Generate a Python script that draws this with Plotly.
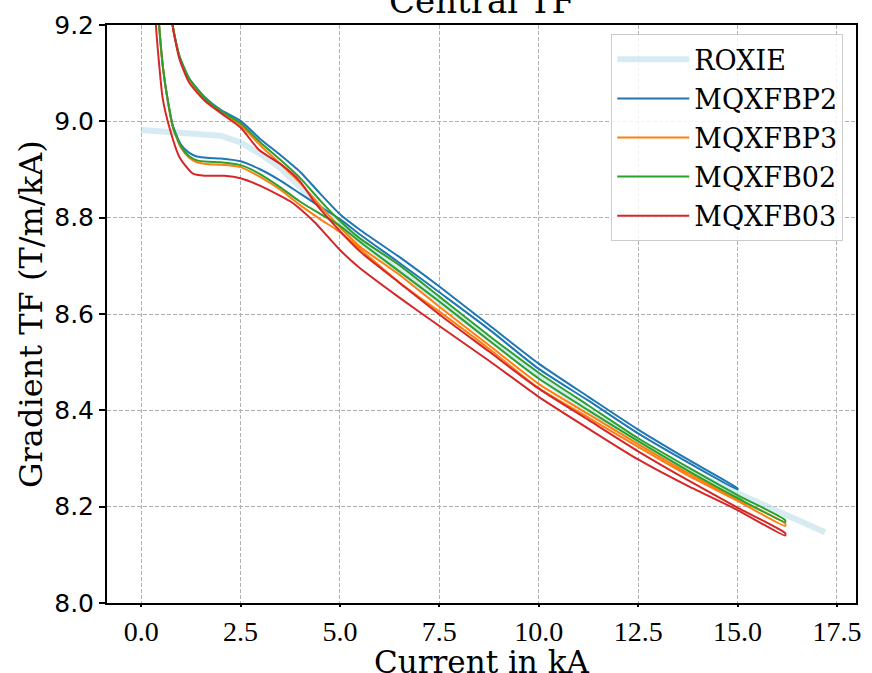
import plotly.graph_objects as go

# ---------------- data ----------------
roxie_x = [0.0, 1.0, 2.0, 2.5, 3.0, 3.5, 4.0, 4.5, 5.0, 6.0, 7.0, 8.0, 9.0, 10.0,
           11.0, 12.0, 13.0, 14.0, 15.0, 16.0, 17.2]
roxie_y = [8.982, 8.977, 8.970, 8.956, 8.932, 8.903, 8.863, 8.823, 8.785, 8.720,
           8.658, 8.596, 8.533, 8.470, 8.412, 8.358, 8.309, 8.266, 8.228, 8.190, 8.147]

# MQXFBP2 (ramp up, then ramp down)
bp2_up_x = [0.30, 0.45, 0.55, 0.66, 0.80, 1.00, 1.20, 1.40, 1.70, 2.00, 2.50, 3.00, 3.50,
            4.00, 4.50, 5.00, 5.50, 6.50, 7.50, 8.75, 10.0, 11.25, 12.5, 13.75, 15.0]
bp2_up_y = [9.40, 9.20, 9.11, 9.048, 8.990, 8.952, 8.935, 8.927, 8.924, 8.923, 8.917, 8.900,
            8.877, 8.850, 8.823, 8.797, 8.765, 8.706, 8.645, 8.568, 8.486, 8.420, 8.352,
            8.292, 8.236]
bp2_dn_x = [15.0, 13.75, 12.5, 11.25, 10.0, 8.75, 7.5, 6.5, 5.5, 5.0, 4.5, 4.0, 3.5, 3.0,
            2.5, 2.0, 1.6, 1.2, 0.96, 0.79, 0.70]
bp2_dn_y = [8.238, 8.298, 8.360, 8.428, 8.497, 8.577, 8.657, 8.718, 8.775, 8.807, 8.850,
            8.895, 8.930, 8.963, 9.001, 9.024, 9.050, 9.090, 9.136, 9.200, 9.300]

# MQXFBP3
bp3_up_x = [0.30, 0.45, 0.55, 0.66, 0.80, 1.00, 1.20, 1.40, 1.70, 2.00, 2.50, 3.00, 3.50,
            4.00, 4.50, 5.00, 5.50, 6.50, 7.50, 8.75, 10.0, 11.25, 12.5, 13.75, 15.0, 16.2]
bp3_up_y = [9.40, 9.20, 9.11, 9.046, 8.986, 8.945, 8.925, 8.915, 8.911, 8.910, 8.905, 8.884,
            8.858, 8.826, 8.797, 8.770, 8.735, 8.665, 8.605, 8.528, 8.446, 8.385, 8.324,
            8.265, 8.212, 8.160]
bp3_dn_x = [16.2, 15.0, 13.75, 12.5, 11.25, 10.0, 8.75, 7.5, 6.5, 5.5, 5.0, 4.5, 4.0, 3.5,
            3.0, 2.5, 2.0, 1.6, 1.2, 0.96, 0.79, 0.70]
bp3_dn_y = [8.165, 8.216, 8.270, 8.330, 8.392, 8.455, 8.535, 8.615, 8.681, 8.740, 8.780,
            8.825, 8.872, 8.912, 8.950, 8.992, 9.020, 9.046, 9.088, 9.134, 9.200, 9.300]

# MQXFB02
b02_up_x = [0.30, 0.45, 0.55, 0.66, 0.80, 1.00, 1.20, 1.40, 1.70, 2.00, 2.50, 3.00, 3.50,
            4.00, 4.50, 5.00, 5.50, 6.50, 7.50, 8.75, 10.0, 11.25, 12.5, 13.75, 15.0, 16.2]
b02_up_y = [9.40, 9.20, 9.11, 9.048, 8.988, 8.948, 8.928, 8.919, 8.916, 8.915, 8.909, 8.890,
            8.863, 8.833, 8.808, 8.783, 8.750, 8.688, 8.626, 8.545, 8.466, 8.400, 8.336,
            8.275, 8.218, 8.168]
b02_dn_x = [16.2, 15.0, 13.75, 12.5, 11.25, 10.0, 8.75, 7.5, 6.5, 5.5, 5.0, 4.5, 4.0, 3.5,
            3.0, 2.5, 2.0, 1.6, 1.2, 0.96, 0.79, 0.70]
b02_dn_y = [8.172, 8.224, 8.282, 8.342, 8.410, 8.478, 8.555, 8.636, 8.701, 8.757, 8.793,
            8.836, 8.882, 8.920, 8.956, 8.996, 9.022, 9.048, 9.090, 9.136, 9.200, 9.300]

# MQXFB03
b03_up_x = [0.28, 0.37, 0.45, 0.54, 0.71, 0.96, 1.29, 1.60, 2.10, 2.50, 3.00, 3.50, 3.80,
            4.00, 4.37, 4.70, 5.00, 5.46, 6.46, 7.50, 8.75, 10.0, 11.25, 12.5, 13.75, 15.0, 16.2]
b03_up_y = [9.40, 9.20, 9.12, 9.048, 8.987, 8.926, 8.892, 8.887, 8.887, 8.882, 8.866, 8.845,
            8.831, 8.818, 8.790, 8.760, 8.733, 8.698, 8.636, 8.575, 8.503, 8.428, 8.362,
            8.298, 8.243, 8.193, 8.140]
b03_dn_x = [16.2, 15.0, 13.75, 12.5, 11.25, 10.0, 8.75, 7.5, 6.46, 5.5, 5.0, 4.37, 4.0, 3.54,
            2.96, 2.5, 2.04, 1.62, 1.21, 0.96, 0.79, 0.70]
b03_dn_y = [8.145, 8.198, 8.255, 8.315, 8.380, 8.445, 8.522, 8.599, 8.667, 8.730, 8.772,
            8.831, 8.875, 8.909, 8.941, 8.987, 9.015, 9.041, 9.080, 9.130, 9.200, 9.300]

x_ticks = [0.0, 2.5, 5.0, 7.5, 10.0, 12.5, 15.0, 17.5]
y_ticks = [8.0, 8.2, 8.4, 8.6, 8.8, 9.0, 9.2]

series = [
    ("MQXFBP2", "#1f77b4", bp2_up_x, bp2_up_y, bp2_dn_x, bp2_dn_y),
    ("MQXFBP3", "#ff7f0e", bp3_up_x, bp3_up_y, bp3_dn_x, bp3_dn_y),
    ("MQXFB02", "#2ca02c", b02_up_x, b02_up_y, b02_dn_x, b02_dn_y),
    ("MQXFB03", "#d62728", b03_up_x, b03_up_y, b03_dn_x, b03_dn_y),
]

# ---------------- figure ----------------
SERIF = "DejaVu Serif"
fig = go.Figure()
fig.add_trace(go.Scatter(x=roxie_x, y=roxie_y, mode="lines", name="ROXIE",
                         legendgroup="g0",
                         line=dict(color="rgba(173,216,230,0.5)", width=6)))
for i, (name, color, ux, uy, dx, dy) in enumerate(series):
    fig.add_trace(go.Scatter(x=ux + dx, y=uy + dy, mode="lines", name=name,
                             legendgroup="g%d" % (i + 1),
                             line=dict(color=color, width=2, shape="spline",
                                       smoothing=0.6)))

axis_common = dict(showgrid=True, gridcolor="#b0b0b0", gridwidth=1, griddash="4px,2px",
                   zeroline=False, showline=True, linecolor="black", linewidth=2,
                   mirror=True, ticks="outside", tickwidth=1.5, tickcolor="black")

fig.update_layout(
    width=872, height=673,
    margin=dict(l=107, r=11, t=22, b=70),
    paper_bgcolor="white", plot_bgcolor="white",
    xaxis=dict(range=[-0.86, 17.98], tickvals=x_ticks,
               ticktext=["%.1f" % v for v in x_ticks],
               tickfont=dict(family="Liberation Serif", size=28, color="black"),
               ticklen=2,
               **axis_common),
    yaxis=dict(range=[8.0, 9.2], tickvals=y_ticks,
               ticktext=["%.1f" % v for v in y_ticks],
               tickfont=dict(family="DejaVu Sans", size=25, color="black"),
               ticklen=6,
               **axis_common),
    legend=dict(x=0.983, y=0.984, xanchor="right", yanchor="top",
                font=dict(family=SERIF, size=27, color="black"),
                bgcolor="rgba(255,255,255,0.85)", bordercolor="#cccccc",
                borderwidth=1, tracegroupgap=1, itemwidth=72),
    showlegend=True,
    annotations=[
        dict(text="Central TF", xref="paper", yref="paper", x=0.5, y=1,
             xanchor="center", yanchor="bottom", yshift=2, showarrow=False,
             font=dict(family=SERIF, size=34, color="black")),
        dict(text="Current in kA", xref="paper", yref="paper", x=0.5, y=0,
             xanchor="center", yanchor="top", yshift=-39, showarrow=False,
             font=dict(family=SERIF, size=31, color="black")),
        dict(text="Gradient TF (T/m/kA)", xref="paper", yref="paper", x=0, y=0.5,
             xanchor="center", yanchor="middle", xshift=-76, textangle=-90,
             showarrow=False, font=dict(family=SERIF, size=32, color="black")),
    ],
)

fig.write_html("out.html")
